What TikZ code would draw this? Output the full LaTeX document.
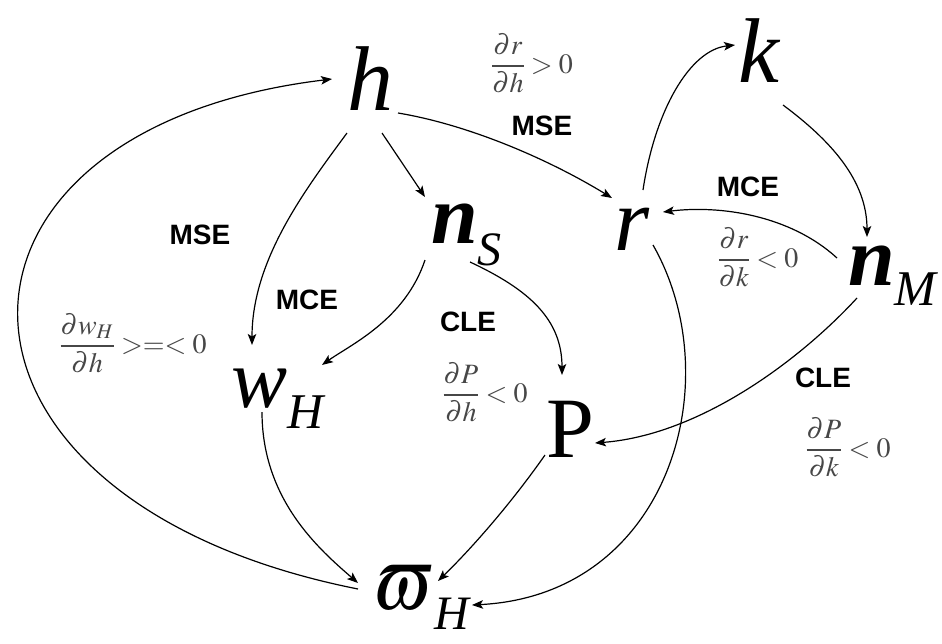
\documentclass[tikz,border=0pt]{standalone}
\usepackage{amsmath}
\usepackage{mathptmx}
\usepackage{fontspec}
\setmainfont{Liberation Serif}
\newfontfamily\lsans{Liberation Sans}
\usetikzlibrary{arrows.meta,calc}
\tikzset{
  big/.style={anchor=base west, inner sep=0pt, outer sep=0pt},
  lab/.style={font=\lsans\bfseries\fontsize{28}{30}\selectfont, inner sep=0pt},
  fr/.style={text=black!72, font=\fontsize{28}{32}\selectfont, inner sep=0pt},
  conn/.style={line width=1.2pt, -{Stealth[length=11pt,width=8.5pt,inset=2.5pt]}}
}
\begin{document}
\begin{tikzpicture}[x=1pt,y=-1pt]
\fill[white] (0,0) rectangle (942,643);
\useasboundingbox (0,0) rectangle (942,643);
% main nodes
\node[big] (h) at (347,110) {\fontsize{92}{92}\selectfont\itshape h};
\node[big] (k) at (738,82) {\fontsize{92}{92}\selectfont\itshape k};
\node[big] (r) at (614,250) {\fontsize{90}{90}\selectfont\itshape r};
\node[big] (nS) at (431,243) {\fontsize{84}{84}\selectfont\bfseries\itshape n\raisebox{-22pt}{\fontsize{48}{48}\selectfont\mdseries\itshape S}};
\node[big] (nM) at (848,285) {\fontsize{84}{84}\selectfont\bfseries\itshape n\raisebox{-20pt}{\fontsize{50}{50}\selectfont\mdseries\itshape M}};
\node[big] (wH) at (231,407) {\fontsize{84}{84}\selectfont\itshape w\raisebox{-21pt}{\fontsize{50}{50}\selectfont\itshape H}};
\node[big] (P) at (546,457) {\fontsize{86}{86}\selectfont P};
\node[big] (vp) at (373,609) {\fontsize{76}{76}\selectfont$\varpi$\raisebox{-20pt}{\fontsize{48}{48}\selectfont\itshape H}};
% labels
\node[fr] (f1) at (532,63) {$\displaystyle\frac{\partial r}{\partial h}>0$};
\node[lab] (l1) at (542,126) {MSE};
\node[lab] (l2) at (200,235) {MSE};
\node[fr] (f2) at (133,343) {$\displaystyle\frac{\partial w_{H}}{\partial h}>=<0$};
\node[lab] (l3) at (307,300) {MCE};
\node[lab] (l4) at (468,322) {CLE};
\node[fr] (f3) at (485,392) {$\displaystyle\frac{\partial P}{\partial h}<0$};
\node[lab] (l5) at (748,187) {MCE};
\node[fr] (f4) at (758,257) {$\displaystyle\frac{\partial r}{\partial k}<0$};
\node[lab] (l6) at (823,378) {CLE};
\node[fr] (f5) at (848,447) {$\displaystyle\frac{\partial P}{\partial k}<0$};
% connectors
\draw[conn] ($(vp.base west)+(-15,-20)$) .. controls (-90,500) and (-90,130) .. ($(h.base west)+(-15,-31)$);
\draw[conn] ($(h.base west)+(51,3)$) .. controls (470,125) and (550,160) .. ($(r.base west)+(-2,-52)$);
\draw[conn] ($(h.base west)+(35,23)$) -- ($(nS.base west)+(-6,-46)$);
\draw[conn] ($(h.base west)+(0,23)$) .. controls (305,190) and (252,260) .. ($(wH.base west)+(21,-62)$);
\draw[conn] ($(nS.base west)+(-6,17)$) .. controls (405,320) and (350,345) .. ($(wH.base west)+(91,-42)$);
\draw[conn] ($(nS.base west)+(39,19)$) .. controls (530,290) and (562,320) .. ($(P.base west)+(16,-82)$);
\draw[conn] ($(r.base west)+(29,-60)$) .. controls (655,110) and (690,50) .. ($(k.base west)+(-3,-37)$);
\draw[conn] ($(k.base west)+(45,23)$) .. controls (830,140) and (867,180) .. ($(nM.base west)+(19,-48)$);
\draw[conn] ($(nM.base west)+(-11,-27)$) .. controls (790,215) and (720,205) .. ($(r.base west)+(49,-38)$);
\draw[conn] ($(nM.base west)+(9,13)$) .. controls (800,360) and (700,435) .. ($(P.base west)+(49,-14)$);
\draw[conn] ($(r.base west)+(39,-5)$) .. controls (730,380) and (670,595) .. ($(vp.base west)+(99,-4)$);
\draw[conn] ($(wH.base west)+(31,5)$) .. controls (262,500) and (320,550) .. ($(vp.base west)+(-15,-26)$);
\draw[conn] ($(P.base west)+(-1,-2)$) .. controls (510,505) and (470,550) .. ($(vp.base west)+(65,-28)$);
\end{tikzpicture}
\end{document}
